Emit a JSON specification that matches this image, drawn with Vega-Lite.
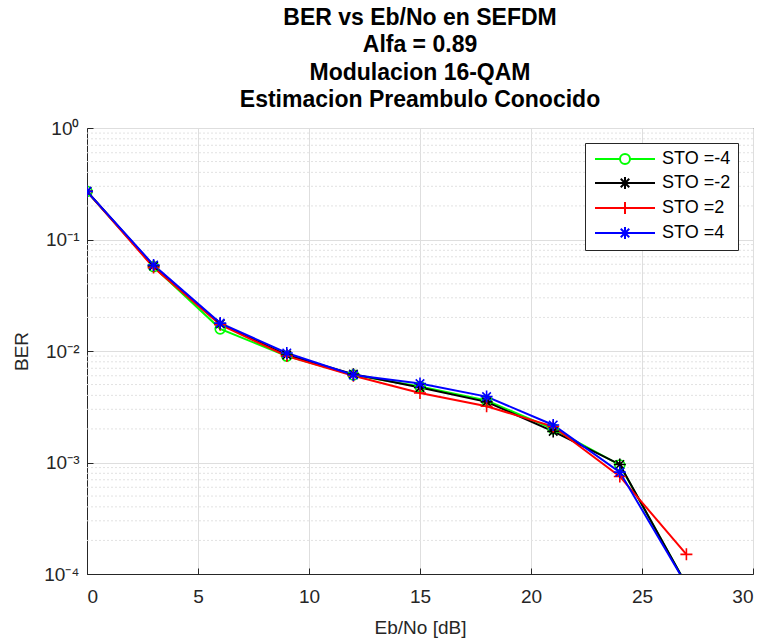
{
  "$schema": "https://vega.github.io/schema/vega-lite/v6.json",
  "width": 666,
  "height": 446,
  "autosize": {"type": "none"},
  "padding": {"left": 87, "top": 128, "right": 16, "bottom": 66},
  "background": "white",
  "title": {
    "text": ["BER vs Eb/No en SEFDM", "Alfa = 0.89", "Modulacion 16-QAM", "Estimacion Preambulo Conocido"],
    "font": "Liberation Sans",
    "fontSize": 23,
    "fontWeight": "bold",
    "color": "#000000",
    "lineHeight": 27.5,
    "anchor": "middle",
    "offset": 7
  },
  "config": {
    "view": {"stroke": "#262626", "strokeWidth": 1},
    "axis": {
      "labelFont": "Liberation Sans",
      "titleFont": "Liberation Sans",
      "labelColor": "#262626",
      "titleColor": "#262626",
      "labelFontSize": 19,
      "titleFontSize": 19,
      "titleFontWeight": "normal",
      "domainColor": "#262626",
      "tickColor": "#262626",
      "gridColor": "#dedede",
      "gridWidth": 1
    },
    "legend": {
      "labelFont": "Liberation Sans",
      "labelFontSize": 18,
      "labelColor": "#000000",
      "title": null,
      "orient": "top-right",
      "offset": 15,
      "padding": 7,
      "strokeColor": "#262626",
      "fillColor": "#ffffff",
      "symbolSize": 100,
      "symbolStrokeWidth": 2,
      "symbolOffset": 0,
      "labelOffset": 52,
      "rowPadding": 5,
      "symbolType": "M-1.2,0H10.8"
    }
  },
  "datasets": {
    "ber": [
      {"ebno": 0, "ber": 0.27, "serie": "STO =-4"},
      {"ebno": 3, "ber": 0.057, "serie": "STO =-4"},
      {"ebno": 6, "ber": 0.0158, "serie": "STO =-4"},
      {"ebno": 9, "ber": 0.009, "serie": "STO =-4"},
      {"ebno": 12, "ber": 0.0061, "serie": "STO =-4"},
      {"ebno": 15, "ber": 0.0048, "serie": "STO =-4"},
      {"ebno": 18, "ber": 0.0036, "serie": "STO =-4"},
      {"ebno": 21, "ber": 0.002, "serie": "STO =-4"},
      {"ebno": 24, "ber": 0.00095, "serie": "STO =-4"},
      {"ebno": 27, "ber": 0.00008, "serie": "STO =-4"},
      {"ebno": 0, "ber": 0.27, "serie": "STO =-2"},
      {"ebno": 3, "ber": 0.058, "serie": "STO =-2"},
      {"ebno": 6, "ber": 0.0175, "serie": "STO =-2"},
      {"ebno": 9, "ber": 0.0092, "serie": "STO =-2"},
      {"ebno": 12, "ber": 0.0062, "serie": "STO =-2"},
      {"ebno": 15, "ber": 0.0047, "serie": "STO =-2"},
      {"ebno": 18, "ber": 0.0035, "serie": "STO =-2"},
      {"ebno": 21, "ber": 0.0019, "serie": "STO =-2"},
      {"ebno": 24, "ber": 0.00096, "serie": "STO =-2"},
      {"ebno": 27, "ber": 0.00008, "serie": "STO =-2"},
      {"ebno": 0, "ber": 0.27, "serie": "STO =2"},
      {"ebno": 3, "ber": 0.056, "serie": "STO =2"},
      {"ebno": 6, "ber": 0.0172, "serie": "STO =2"},
      {"ebno": 9, "ber": 0.009, "serie": "STO =2"},
      {"ebno": 12, "ber": 0.006, "serie": "STO =2"},
      {"ebno": 15, "ber": 0.0042, "serie": "STO =2"},
      {"ebno": 18, "ber": 0.0032, "serie": "STO =2"},
      {"ebno": 21, "ber": 0.0021, "serie": "STO =2"},
      {"ebno": 24, "ber": 0.00075, "serie": "STO =2"},
      {"ebno": 27, "ber": 0.00015, "serie": "STO =2"},
      {"ebno": 0, "ber": 0.27, "serie": "STO =4"},
      {"ebno": 3, "ber": 0.059, "serie": "STO =4"},
      {"ebno": 6, "ber": 0.0178, "serie": "STO =4"},
      {"ebno": 9, "ber": 0.0096, "serie": "STO =4"},
      {"ebno": 12, "ber": 0.0061, "serie": "STO =4"},
      {"ebno": 15, "ber": 0.0051, "serie": "STO =4"},
      {"ebno": 18, "ber": 0.0039, "serie": "STO =4"},
      {"ebno": 21, "ber": 0.00217, "serie": "STO =4"},
      {"ebno": 24, "ber": 0.00082, "serie": "STO =4"},
      {"ebno": 27, "ber": 0.00008, "serie": "STO =4"}
    ],
    "minor": [
      {"v": 0.0002}, {"v": 0.0003}, {"v": 0.0004}, {"v": 0.0005}, {"v": 0.0006}, {"v": 0.0007}, {"v": 0.0008}, {"v": 0.0009},
      {"v": 0.002}, {"v": 0.003}, {"v": 0.004}, {"v": 0.005}, {"v": 0.006}, {"v": 0.007}, {"v": 0.008}, {"v": 0.009},
      {"v": 0.02}, {"v": 0.03}, {"v": 0.04}, {"v": 0.05}, {"v": 0.06}, {"v": 0.07}, {"v": 0.08}, {"v": 0.09},
      {"v": 0.2}, {"v": 0.3}, {"v": 0.4}, {"v": 0.5}, {"v": 0.6}, {"v": 0.7}, {"v": 0.8}, {"v": 0.9}
    ]
  },
  "layer": [
    {
      "data": {"name": "minor"},
      "mark": {"type": "rule", "color": "#e2e2e2", "strokeDash": [2, 2], "strokeWidth": 1},
      "encoding": {
        "y": {"field": "v", "type": "quantitative", "scale": {"type": "log", "domain": [0.0001, 1], "nice": false}}
      }
    },
    {
      "data": {"name": "ber"},
      "mark": {"type": "line", "strokeWidth": 2, "clip": true},
      "encoding": {
        "x": {
          "field": "ebno", "type": "quantitative",
          "scale": {"domain": [0, 30], "nice": false},
          "axis": {"title": "Eb/No [dB]", "values": [0, 5, 10, 15, 20, 25, 30], "grid": true, "tickSize": -6, "labelPadding": 19, "titlePadding": 12}
        },
        "y": {
          "field": "ber", "type": "quantitative",
          "scale": {"type": "log", "domain": [0.0001, 1], "nice": false},
          "axis": {
            "title": "BER",
            "values": [0.0001, 0.001, 0.01, 0.1, 1],
            "grid": true,
            "tickSize": -6,
            "labelPadding": 14,
            "titlePadding": 12,
            "labelExpr": "datum.value >= 0.5 ? '10⁰' : datum.value >= 0.05 ? '10⁻¹' : datum.value >= 0.005 ? '10⁻²' : datum.value >= 0.0005 ? '10⁻³' : '10⁻⁴'"
          }
        },
        "color": {
          "field": "serie", "type": "nominal",
          "sort": ["STO =-4", "STO =-2", "STO =2", "STO =4"],
          "scale": {"domain": ["STO =-4", "STO =-2", "STO =2", "STO =4"], "range": ["#00ff00", "#000000", "#ff0000", "#0000ff"]},
          "legend": {
            "encoding": {
              "symbols": {
                "shape": {
                  "condition": [
                    {"test": "datum.value === 'STO =-4'", "value": "M-1.2,0H3.8M5.8,0H10.8M3.8,0A1,1 0 1,1 5.8,0A1,1 0 1,1 3.8,0"},
                    {"test": "datum.value === 'STO =2'", "value": "M-1.2,0H10.8M4.8,-1.2V1.2"}
                  ],
                  "value": "M-1.2,0H10.8M4.8,-1.2V1.2M3.95,-0.85L5.65,0.85M3.95,0.85L5.65,-0.85"
                },
                "fill": {"value": "transparent"}
              }
            }
          }
        },
        "order": {"field": "ebno"}
      }
    },
    {
      "data": {"name": "ber"},
      "transform": [{"filter": "datum.serie === 'STO =-4'"}],
      "mark": {"type": "point", "shape": "circle", "filled": false, "color": "#00ff00", "strokeWidth": 1.6, "size": 100, "opacity": 1, "clip": true},
      "encoding": {
        "x": {"field": "ebno", "type": "quantitative"},
        "y": {"field": "ber", "type": "quantitative"}
      }
    },
    {
      "data": {"name": "ber"},
      "transform": [{"filter": "datum.serie === 'STO =-2'"}],
      "mark": {"type": "point", "shape": "M-1.2,0H1.2M0,-1.2V1.2M-0.85,-0.85L0.85,0.85M-0.85,0.85L0.85,-0.85", "filled": false, "color": "#000000", "strokeWidth": 1.6, "size": 100, "opacity": 1, "clip": true},
      "encoding": {
        "x": {"field": "ebno", "type": "quantitative"},
        "y": {"field": "ber", "type": "quantitative"}
      }
    },
    {
      "data": {"name": "ber"},
      "transform": [{"filter": "datum.serie === 'STO =2'"}],
      "mark": {"type": "point", "shape": "M-1.2,0H1.2M0,-1.2V1.2", "filled": false, "color": "#ff0000", "strokeWidth": 1.6, "size": 100, "opacity": 1, "clip": true},
      "encoding": {
        "x": {"field": "ebno", "type": "quantitative"},
        "y": {"field": "ber", "type": "quantitative"}
      }
    },
    {
      "data": {"name": "ber"},
      "transform": [{"filter": "datum.serie === 'STO =4'"}],
      "mark": {"type": "point", "shape": "M-1.2,0H1.2M0,-1.2V1.2M-0.85,-0.85L0.85,0.85M-0.85,0.85L0.85,-0.85", "filled": false, "color": "#0000ff", "strokeWidth": 1.6, "size": 100, "opacity": 1, "clip": true},
      "encoding": {
        "x": {"field": "ebno", "type": "quantitative"},
        "y": {"field": "ber", "type": "quantitative"}
      }
    }
  ]
}
